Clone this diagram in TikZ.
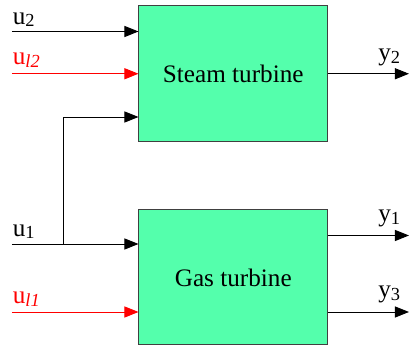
\documentclass[tikz,border=0pt]{standalone}
\usepackage{fontspec}
\setmainfont{Liberation Serif}
\usepackage{tikz}
\usepackage{xcolor}
\usetikzlibrary{arrows.meta, positioning, calc}
\definecolor{cMint}{RGB}{84,255,172}
\definecolor{cEdge}{RGB}{64,64,64}
\definecolor{cLoad}{RGB}{255,0,0}
\newcommand{\lowidx}[1]{\raisebox{-1.2pt}{\fontsize{9.2}{10}\selectfont #1}}
\tikzset{
	% block diagram styles
	blk/.style  ={rectangle, draw=cEdge, line width=0.5pt, fill=cMint, minimum width=94.25pt, minimum height=67.75pt, inner sep=0pt, align=center},
	sig/.style  ={-{Triangle[length=7pt, width=5.5pt]}, line width=0.45pt},
	lbl/.style  ={anchor=base west, inner sep=0pt},
}
\begin{document}
\begin{tikzpicture}[x=0.5pt, y=0.5pt, font=\fontsize{12.6}{15}\selectfont]
					\useasboundingbox (0,0) rectangle (409,348);
					\node[blk] (steam) at (233.25,274.25) {Steam turbine};
					\node[blk, minimum height=67.5pt] (gas) at (233.25,70.5) {Gas turbine};
					\coordinate (inU2) at (12,316.5);
					\coordinate (inUl2) at (12,274.25);
					\coordinate (inU1) at (12,104);
					\coordinate (inUl1) at (12,36);
					\coordinate (split) at (63,104);
					\coordinate (bend) at (63,231);
					\coordinate (outY2) at (409,274.25);
					\coordinate (outY1) at (409,112.5);
					\coordinate (outY3) at (409,36);
					\draw[sig] (inU2) -- (inU2 -| steam.west);
					\draw[sig, cLoad] (inUl2) -- (steam.west);
					\draw[sig] (inU1) -- (inU1 -| gas.west);
					\draw[sig, cLoad] (inUl1) -- (inUl1 -| gas.west);
					\draw[sig] (split) -- (bend) -- (bend -| steam.west);
					\draw[sig] (steam.east) -- (outY2);
					\draw[sig] (outY1 -| gas.east) -- (outY1);
					\draw[sig] (outY3 -| gas.east) -- (outY3);
					\node[lbl] (labU2) at (12.5,323.5) {u\lowidx{2}};
					\node[lbl, cLoad] (labUl2) at (12.5,283) {u\lowidx{\textit{l2}}};
					\node[lbl] (labU1) at (12.5,111.5) {u\lowidx{1}};
					\node[lbl, cLoad] (labUl1) at (12.5,44) {u\lowidx{\textit{l1}}};
					\node[lbl] (labY2) at (378,287) {y\lowidx{2}};
					\node[lbl] (labY1) at (378,126) {y\lowidx{1}};
					\node[lbl] (labY3) at (378,50) {y\lowidx{3}};
				\end{tikzpicture}
\end{document}
